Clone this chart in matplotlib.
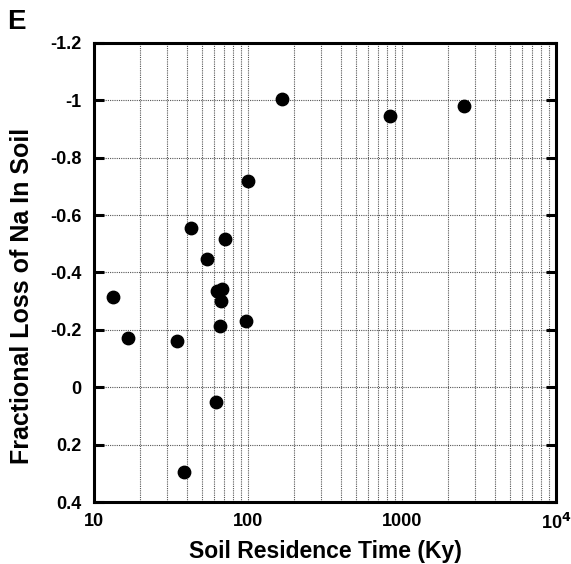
import numpy as np
import matplotlib
matplotlib.use("Agg")
import matplotlib.pyplot as plt
from matplotlib.ticker import FixedLocator, LogLocator, NullFormatter

# soil residence time (Ky) and fractional loss of Na
residence_time = [13.3, 16.6, 34.4, 38.5, 42.5, 54.5, 62.2, 63.2, 65.8, 66.8,
                  67.4, 71.3, 96.6, 100.5, 166, 836, 2541]
na_loss = [-0.315, -0.172, -0.162, 0.294, -0.554, -0.446, 0.052, -0.334, -0.214,
           -0.301, -0.343, -0.516, -0.231, -0.72, -1.004, -0.946, -0.98]

y_ticks = [-1.2, -1.0, -0.8, -0.6, -0.4, -0.2, 0.0, 0.2, 0.4]
y_labels = ["-1.2", "-1", "-0.8", "-0.6", "-0.4", "-0.2", "0", "0.2", "0.4"]
x_ticks = [10, 100, 1000, 10000]
x_labels = ["10", "100", "1000", r"10$^{4}$"]

plt.rcParams["font.family"] = ["Liberation Sans", "DejaVu Sans"]
plt.rcParams["font.weight"] = "bold"
plt.rcParams["mathtext.default"] = "bf"

fig = plt.figure(figsize=(5.71, 5.64), dpi=100)
ax = fig.add_axes([0.1646, 0.1099, 0.8091, 0.8139])

ax.scatter(residence_time, na_loss, s=80, color="black", zorder=3)

ax.set_xscale("log")
ax.set_xlim(10, 10000)
ax.set_ylim(0.4, -1.2)

ax.xaxis.set_major_locator(FixedLocator(x_ticks))
ax.set_xticklabels(x_labels)
ax.xaxis.set_minor_locator(LogLocator(base=10, subs=np.arange(2, 10)))
ax.xaxis.set_minor_formatter(NullFormatter())
ax.set_yticks(y_ticks)
ax.set_yticklabels(y_labels)

ax.grid(True, which="both", axis="x", color="#555555", linestyle=(0, (1, 1)), lw=0.8)
ax.grid(True, which="major", axis="y", color="#555555", linestyle=(0, (1, 1)), lw=0.8)
ax.set_axisbelow(True)

for sp in ax.spines.values():
    sp.set_linewidth(2.2)

ax.tick_params(axis="y", which="major", direction="in", left=True, right=True,
               length=7, width=2.2, labelsize=13, pad=9)
ax.tick_params(axis="x", which="both", length=0, labelsize=13, pad=8)

ax.set_xlabel("Soil Residence Time (Ky)", fontsize=16.5, fontweight="bold")
ax.xaxis.label.set_va("center")
ax.xaxis.set_label_coords(0.5, -0.107)
ax.set_ylabel("Fractional Loss of Na In Soil", fontsize=18, fontweight="bold")
ax.yaxis.label.set_va("center")
ax.yaxis.set_label_coords(-0.155, 0.449)

fig.text(0.012, 0.961, "E", fontsize=20, fontweight="bold", ha="left", va="center")

fig.savefig("out.png", dpi=100)
